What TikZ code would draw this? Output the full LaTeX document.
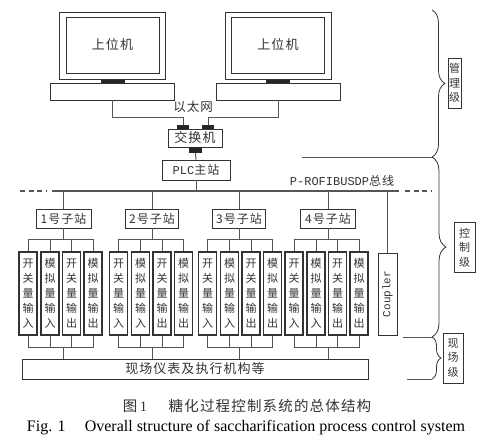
\documentclass[tikz,border=0pt]{standalone}
\usepackage{fontspec}
\setmainfont{Liberation Serif}
\setmonofont{Liberation Mono}
\newfontfamily\cjk[LetterSpace=8]{Noto Sans CJK SC}
\usetikzlibrary{positioning, decorations.pathreplacing}
\definecolor{WireGray}{HTML}{555555}
\definecolor{BoxInk}{HTML}{333333}

\begin{document}
\begin{tikzpicture}[x=1pt, y=-1pt,
  box/.style={draw=BoxInk, line width=0.9pt, inner sep=0pt, text=BoxInk,
    font=\cjk\fontsize{12pt}{14pt}\selectfont},
  module/.style={box, line width=1.3pt, minimum width=18pt, minimum height=83pt,
    align=center, font=\cjk\fontsize{11pt}{15pt}\selectfont},
  port/.style={fill=black!85, inner sep=0pt},
  wire/.style={draw=WireGray, line width=1pt},
  level/.style={box, align=center, inner sep=1pt, minimum height=50pt,
    font=\cjk\fontsize{11pt}{14.5pt}\selectfont},
  levelbrace/.style={draw=BoxInk, line width=0.8pt, decorate,
    decoration={brace, amplitude=#1}}]
  \useasboundingbox (0,0) rectangle (495,441);

  % host computers
  \foreach \n/\cx in {1/112.5, 2/278}{
    \draw[BoxInk, line width=1pt] ({\cx-53},13) rectangle ({\cx+53},80);
    \node[box, minimum width=93pt, minimum height=56pt,
      font=\cjk\fontsize{13pt}{14pt}\selectfont] (pc\n) at (\cx,45) {上位机};
    \fill[black!85] ({\cx-12},80) rectangle ({\cx+12},83.5);
    \node[box, minimum width=124pt, minimum height=17pt] (base\n) at (\cx,91.5) {};
  }

  % ethernet switch
  \node[box, minimum width=54pt, minimum height=18pt,
    font=\cjk\fontsize{13pt}{14pt}\selectfont] (sw) at (195,138) {交换机};
  \node[port, minimum width=12pt, minimum height=4pt] (p1) at (183,127) {};
  \node[port, minimum width=12pt, minimum height=4pt] (p2) at (208,127) {};
  \node[port, minimum width=13pt, minimum height=6pt] (p3) at (195.5,150) {};
  \node[text=BoxInk, font=\cjk\fontsize{12.5pt}{14pt}\selectfont] (eth) at (193,107) {以太网};
  \draw[wire] (base1.south) -- ++(0,17) -| (p1.north);
  \draw[wire] (base2.south) -- ++(0,17) -| (p2.north);

  % master station and bus
  \node[box, minimum width=68pt, minimum height=20pt] (plc) at (196,170)
    {{\ttfamily PLC}主站};
  \coordinate (busL) at (52,191);
  \coordinate (busR) at (399,191);
  \draw[wire] (p3.south) -- (plc.north);
  \draw[wire] (plc.south) -- (plc.south |- busL);
  \draw[wire, line width=1.4pt] (busL) -- (busR);
  \draw[wire, line width=1.2pt, dash pattern=on 5pt off 3.5pt] (20,191) -- ++(27,0);
  \draw[wire, line width=1.2pt, dash pattern=on 5pt off 3.5pt] (405,191) -- ++(27,0);
  \node[text=BoxInk, font=\cjk\fontsize{12pt}{14pt}\selectfont] (buslabel) at (342,181)
    {{\ttfamily P-ROFIBUSDP}总线};

  % field devices
  \node[box, minimum width=346pt, minimum height=20pt,
    font=\cjk\fontsize{13pt}{14pt}\selectfont] (field) at (195,369) {现场仪表及执行机构等};

  % sub stations with their modules
  \foreach \st/\sx/\sw/\mx in {1/63.5/55/28, 2/152/53/118.5, 3/239/53/207.5, 4/328/55/294}{
    \node[box, minimum width=\sw pt, minimum height=19pt] (s\st) at (\sx,218.5) {\st 号子站};
    \draw[wire] (s\st.north) -- (s\st.north |- busL);
    \foreach \dx/\ta/\tb/\tc [count=\k] in {0/开/关/入, 22/模/拟/入, 43.5/开/关/出, 65/模/拟/出}{
      \node[module] (m\st\k) at ({\mx+\dx},293.5) {\ta\\\tb\\量\\输\\\tc};
    }
    \draw[wire] (s\st.south) -- ++(0,12);
    \draw[wire] (m\st1.north) -- ++(0,-12) -| (m\st4.north);
    \draw[wire] (m\st2.north) -- ++(0,-12);
    \draw[wire] (m\st3.north) -- ++(0,-12);
    \draw[wire] (m\st1.south) -- ++(0,12) -| (m\st4.south);
    \draw[wire] (m\st2.south) -- ++(0,12);
    \draw[wire] (m\st3.south) -- ++(0,12);
    \draw[wire] (s\st.south |- field.north) -- ++(0,-12);
  }

  % coupler
  \node[box, rotate=90, minimum width=82pt, minimum height=19pt,
    font=\ttfamily\fontsize{11pt}{13pt}\selectfont] (coupler) at (387.5,294) {Coupler};
  \draw[wire] (coupler.east) -- (coupler.east |- busR);

  % levels
  \draw[wire] (302,157) -- (433,157);
  \draw[wire] (403,337) -- (432,337);
  \draw[wire] (407,379) -- (432,379);
  \draw[levelbrace=13pt] (432,10) -- (432,157);
  \draw[levelbrace=14pt] (432,157) -- (432,337);
  \draw[levelbrace=9pt] (432,337) -- (432,379);
  \node[level, minimum width=13pt] (mgmt) at (454.5,83) {管\\理\\级};
  \node[level, minimum width=21pt] (ctrl) at (464.5,247.5) {控\\制\\级};
  \node[level, minimum width=20pt] (site) at (453,358) {现\\场\\级};

  % caption
  \node[text=BoxInk, font=\cjk\fontsize{14.5pt}{16pt}\selectfont] (cap1) at (247,406)
    {图\,{\rmfamily 1}\hspace{1.5em}糖化过程控制系统的总体结构};
  \node[font=\rmfamily\fontsize{16pt}{18pt}\selectfont] (cap2) at (246,428)
    {Fig. 1\hspace{1.2em}Overall structure of saccharification process control system};
\end{tikzpicture}
\end{document}
